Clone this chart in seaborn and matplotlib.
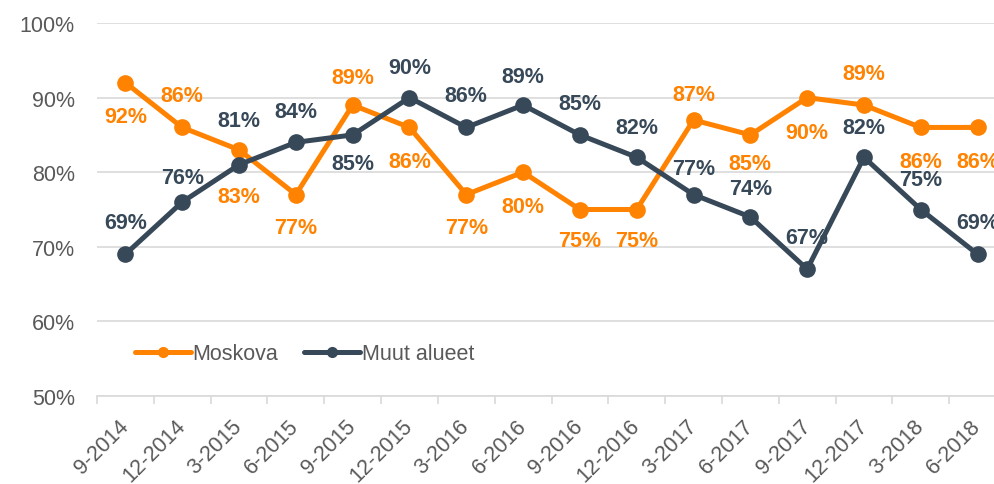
import matplotlib
matplotlib.use("Agg")
import matplotlib.pyplot as plt
import seaborn as sns
import pandas as pd
import numpy as np

categories = ["9-2014", "12-2014", "3-2015", "6-2015", "9-2015", "12-2015", "3-2016", "6-2016",
              "9-2016", "12-2016", "3-2017", "6-2017", "9-2017", "12-2017", "3-2018", "6-2018"]
moskova = [92, 86, 83, 77, 89, 86, 77, 80, 75, 75, 87, 85, 90, 89, 86, 86]
muut = [69, 76, 81, 84, 85, 90, 86, 89, 85, 82, 77, 74, 67, 82, 75, 69]
series_names = ["Moskova", "Muut alueet"]
y_ticks = [50, 60, 70, 80, 90, 100]

# label offsets in pixels (positive = below the point)
moskova_label_dy = [34, -32, 47, 33, -28, 34, 33, 34, 31, 31, -25, 29, 35, -32, 34, 34]
muut_label_dy = [-32, -25, -44, -31, 29, -30, -32, -29, -31, -30, -26, -28, -32, -30, -30, -32]

ORANGE = "#FF8200"
DARK = "#374858"
GRAY_TXT = "#595959"
GRID = "#D9D9D9"

sns.set_theme(style="white")
plt.rcParams["font.family"] = ["Liberation Sans", "DejaVu Sans"]

df = pd.DataFrame({
    "x": list(range(len(categories))) * 2,
    "value": moskova + muut,
    "series": [series_names[0]] * len(categories) + [series_names[1]] * len(categories),
})

fig = plt.figure(figsize=(9.94, 4.85), dpi=100)
ax = fig.add_axes([97 / 994, (485 - 397) / 485, (1006 - 97) / 994, (397 - 24) / 485])

sns.lineplot(data=df, x="x", y="value", hue="series", palette=[ORANGE, DARK],
             marker="o", markersize=12, markeredgewidth=0, linewidth=3.6,
             ax=ax, legend=False, zorder=3)

ax.set_xlim(-0.5, len(categories) - 0.5)
ax.set_ylim(50, 100)
ax.set_yticks(y_ticks)
ax.set_yticklabels([f"{v}%" for v in y_ticks])
ax.grid(axis="y", color=GRID, linewidth=1.2, zorder=0)
ax.set_axisbelow(True)
ax.set_xlabel("")
ax.set_ylabel("")

for s in ["top", "right", "left"]:
    ax.spines[s].set_visible(False)
ax.spines["bottom"].set_color(GRID)
ax.spines["bottom"].set_linewidth(1.2)

ax.set_xticks(np.arange(-0.5, len(categories), 1.0))
ax.set_xticklabels([])
ax.set_xticks(np.arange(len(categories)), minor=True)
ax.set_xticklabels(categories, minor=True, rotation=45, ha="right", va="center",
                   rotation_mode="anchor")
ax.tick_params(axis="x", which="major", length=6, width=1.2, color=GRID, bottom=True)
ax.tick_params(axis="x", which="minor", length=0, pad=19, labelsize=15.5, labelcolor=GRAY_TXT)
ax.tick_params(axis="y", length=0, pad=16, labelsize=15.5, labelcolor=GRAY_TXT)

for vals, dys, col in [(moskova, moskova_label_dy, ORANGE), (muut, muut_label_dy, DARK)]:
    for i, (v, dy) in enumerate(zip(vals, dys)):
        ax.annotate(f"{v}%", (i, v), xytext=(0, -dy), textcoords="offset pixels",
                    ha="center", va="center", fontsize=15.5, fontweight="bold",
                    color=col, zorder=2, annotation_clip=False)

from matplotlib.lines import Line2D
handles = [Line2D([], [], color=ORANGE, lw=3.6, marker="o", markersize=7),
           Line2D([], [], color=DARK, lw=3.6, marker="o", markersize=7)]
ax.legend(handles, series_names, loc="center left", bbox_to_anchor=(0.02, 0.113),
          ncol=2, frameon=False, fontsize=15.5, labelcolor=GRAY_TXT,
          handlelength=2.6, handletextpad=0.1, columnspacing=1.2)

fig.savefig("out.png", dpi=100)
